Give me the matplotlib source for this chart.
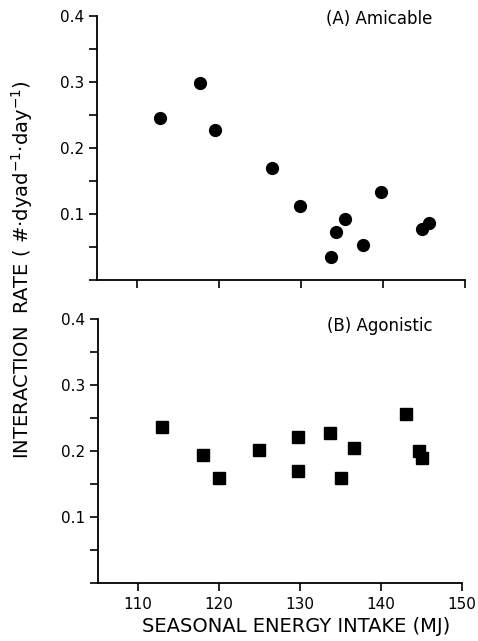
import numpy as np
import matplotlib.pyplot as plt
from matplotlib.ticker import MultipleLocator

# Datos
energia_a = [112.8, 117.7, 119.5, 126.5, 129.8, 133.6, 134.3, 135.4, 137.6, 139.8, 144.8, 145.6]
tasa_a = [0.246, 0.298, 0.228, 0.170, 0.113, 0.035, 0.073, 0.093, 0.053, 0.133, 0.077, 0.087]

energia_b = [113.0, 118.0, 120.0, 125.0, 129.7, 129.7, 133.7, 135.0, 136.6, 143.1, 144.7, 145.1]
tasa_b = [0.237, 0.194, 0.160, 0.2015, 0.221, 0.170, 0.228, 0.159, 0.205, 0.257, 0.200, 0.190]

x_ticks = [110, 120, 130, 140, 150]
y_ticks = [0.1, 0.2, 0.3, 0.4]

plt.rcParams['font.family'] = ['DejaVu Sans']

fig = plt.figure(figsize=(4.78, 6.41), dpi=100)
ax1 = fig.add_axes([0.203, 0.563, 0.770, 0.412])
ax2 = fig.add_axes([0.205, 0.090, 0.762, 0.412])

def estilo(ax, etiquetas_x):
    ax.set_xlim(105.1, 150)
    ax.set_ylim(0, 0.4)
    for s in ['top', 'right']:
        ax.spines[s].set_visible(False)
    for s in ['left', 'bottom']:
        ax.spines[s].set_linewidth(1.3)
    ax.set_xticks(x_ticks)
    ax.set_yticks(y_ticks)
    ax.set_yticklabels(['0.1', '0.2', '0.3', '0.4'])
    ax.yaxis.set_minor_locator(MultipleLocator(0.05))
    ax.tick_params(axis='both', which='both', direction='out', length=6, width=1.2,
                   labelsize=11)
    if not etiquetas_x:
        ax.set_xticklabels([])

# Panel A: amistoso
ax1.plot(energia_a, tasa_a, 'o', color='black', markersize=8.5)
estilo(ax1, False)
ax1.text(0.766, 0.99, '(A) Amicable', transform=ax1.transAxes, ha='center', va='center',
         fontsize=12)

# Panel B: agonistico
ax2.plot(energia_b, tasa_b, 's', color='black', markersize=8.5)
estilo(ax2, True)
ax2.text(0.775, 0.975, '(B) Agonistic', transform=ax2.transAxes, ha='center', va='center',
         fontsize=12)

fig.text(0.62, 0.022, 'SEASONAL ENERGY INTAKE (MJ)', ha='center', va='center', fontsize=14)
fig.text(0.046, 0.579, 'INTERACTION  RATE ( #·dyad$^{-1}$·day$^{-1}$)', rotation=90,
         ha='center', va='center', fontsize=14)

fig.savefig('out.png', dpi=100)
